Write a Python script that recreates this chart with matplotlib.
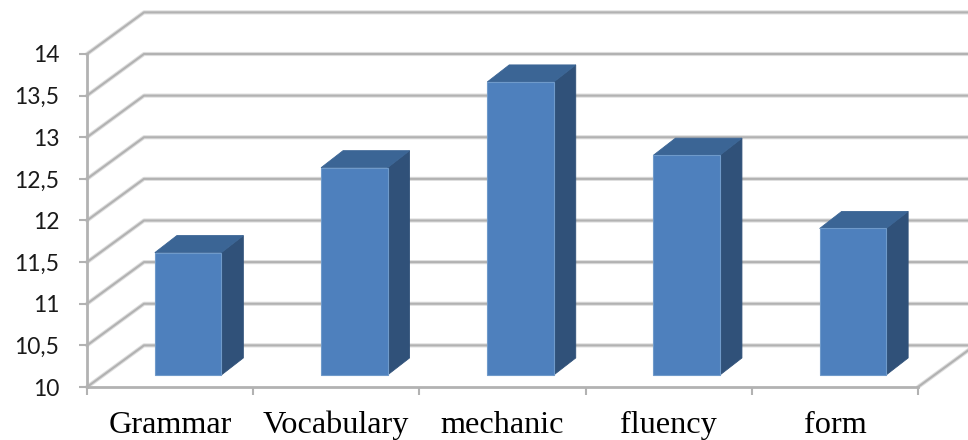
import matplotlib
matplotlib.use("Agg")
import matplotlib.pyplot as plt
from matplotlib.patches import Polygon
from matplotlib.transforms import Affine2D

categories = ["Grammar", "Vocabulary", "mechanic", "fluency", "form"]
values = [11.47, 12.49, 13.52, 12.64, 11.76]
y_ticks = [10, 10.5, 11, 11.5, 12, 12.5, 13, 13.5, 14]
y_labels = ["10", "10,5", "11", "11,5", "12", "12,5", "13", "13,5", "14"]

W, H = 968, 440
GRID = "#b2b2b2"
HALO = "#dedede"
FRONT = "#4e80bd"
TOP = "#3b6595"
SIDE = "#305179"

fig = plt.figure(figsize=(W / 100, H / 100), dpi=100, facecolor="white")
# front plane of the fake 3d box, in pixels
ax = fig.add_axes([87 / W, 1 - 387 / H, 831 / W, 333 / H])
ax.patch.set_alpha(0)
ax.set_xlim(0, 5)
ax.set_ylim(10, 14)

# depth of the box and of the bars, in data units
back_x, back_y = 57 / 166.2, 41.5 / 83
depth_x, depth_y = 22 / 166.2, 17 / 83


def wall_line(xs, ys):
    ax.plot(xs, ys, color=HALO, lw=3.0, clip_on=False, zorder=1, solid_capstyle="round")
    ax.plot(xs, ys, color=GRID, lw=1.5, clip_on=False, zorder=1.1, solid_capstyle="round")


# gridlines: a diagonal on the side wall, then along the back wall
for y in y_ticks:
    wall_line([0, back_x, 5 + back_x], [y, y + back_y, y + back_y])
wall_line([5, 5 + back_x], [10, 10 + back_y])

# bars sit a bit inside the floor, shift them in pixels
shift = ax.transData + Affine2D().translate(18, 12)
centers = [i + 0.5 for i in range(len(categories))]
bar_w = 0.4
for c, v in zip(centers, values):
    l, r = c - bar_w / 2, c + bar_w / 2
    side = [(r, 10), (r + depth_x, 10 + depth_y), (r + depth_x, v + depth_y), (r, v)]
    top = [(l, v), (r, v), (r + depth_x, v + depth_y), (l + depth_x, v + depth_y)]
    ax.add_patch(Polygon(side, closed=True, facecolor=SIDE, edgecolor=SIDE, lw=0.6,
                         transform=shift, clip_on=False, zorder=3))
    ax.add_patch(Polygon(top, closed=True, facecolor=TOP, edgecolor=TOP, lw=0.6,
                         transform=shift, clip_on=False, zorder=3))
ax.bar(centers, [v - 10 for v in values], bottom=10, width=bar_w, color=FRONT,
       edgecolor="#6f9aca", linewidth=0.8, transform=shift, clip_on=False, zorder=4)
ax.set_xlim(0, 5)
ax.set_ylim(10, 14)

for name in ["top", "right"]:
    ax.spines[name].set_visible(False)
for name in ["left", "bottom"]:
    ax.spines[name].set_color(GRID)
    ax.spines[name].set_linewidth(2)

ax.set_yticks(y_ticks)
ax.set_yticklabels(y_labels, family="Lato", fontsize=16.5, color="#1a1a1a")
ax.tick_params(axis="y", length=6, width=1.5, color=GRID, pad=14)

# tick marks on category edges, labels on the centers
ax.set_xticks(range(len(categories) + 1))
ax.set_xticklabels([])
ax.set_xticks(centers, minor=True)
ax.set_xticklabels(categories, minor=True, family="Liberation Serif", fontsize=23.2, color="black")
ax.tick_params(axis="x", which="major", length=6, width=1.5, color=GRID)
ax.tick_params(axis="x", which="minor", length=0, pad=17)

fig.savefig("out.png", dpi=100)
